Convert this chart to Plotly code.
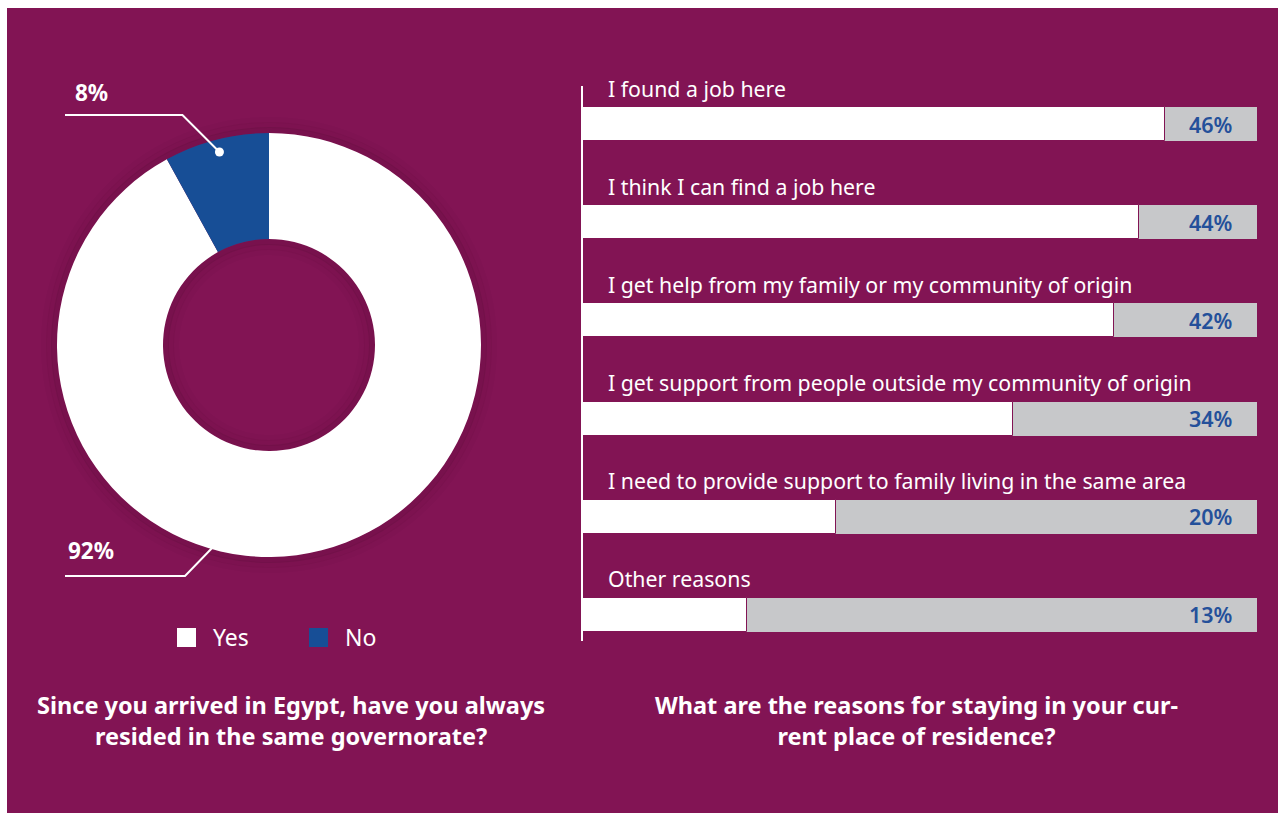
import math
import plotly.graph_objects as go

# ---- data ----
residence_labels = ["Yes", "No"]
residence_values = [92, 8]

reasons = [
    "I found a job here",
    "I think I can find a job here",
    "I get help from my family or my community of origin",
    "I get support from people outside my community of origin",
    "I need to provide support to family living in the same area",
    "Other reasons",
]
reason_values = [46, 44, 42, 34, 20, 13]

left_title = "Since you arrived in Egypt, have you always<br>resided in the same governorate?"
right_title = "What are the reasons for staying in your cur-<br>rent place of residence?"

# ---- style ----
W, H = 1278, 813
PURPLE = "#821454"
BLUE = "#174E96"
GREY = "#C7C8CA"
VALUE_BLUE = "#24509A"
FONT = "Noto Sans"
TRACK = 53.3  # full length of the grey track behind each bar


def px(x):
    return x / W


def py(y):
    return 1 - y / H


# donut geometry in pixels
CX, CY, R = 269, 345, 212

fig = go.Figure()

fig.add_trace(go.Pie(
    labels=residence_labels,
    values=residence_values,
    hole=0.5,
    sort=False,
    direction="clockwise",
    rotation=0,
    marker=dict(colors=["#FFFFFF", BLUE], line=dict(width=0)),
    textinfo="none",
    hoverinfo="label+percent",
    showlegend=False,
    domain=dict(x=[px(CX - R), px(CX + R)], y=[py(CY + R), py(CY - R)]),
))

# grey track behind each bar
fig.add_trace(go.Bar(
    y=reasons,
    x=[TRACK] * len(reasons),
    orientation="h",
    marker=dict(color=GREY, line=dict(width=0)),
    width=0.346,
    hoverinfo="skip",
    showlegend=False,
    xaxis="x", yaxis="y",
))
# value bars
fig.add_trace(go.Bar(
    y=reasons,
    x=reason_values,
    orientation="h",
    marker=dict(color="#FFFFFF", line=dict(color=PURPLE, width=1)),
    width=0.346,
    showlegend=False,
    hovertemplate="%{y}: %{x}%<extra></extra>",
    xaxis="x", yaxis="y",
))

shapes = []
annotations = []

# purple panel
shapes.append(dict(type="rect", xref="paper", yref="paper",
                   x0=px(7), x1=1, y0=0, y1=py(8),
                   fillcolor=PURPLE, line=dict(width=0), layer="below"))

# soft shadow rings around the donut and inside its hole
for rr, w, a in [(R + 3, 6, 0.10), (R + 8, 6, 0.05), (R + 13, 6, 0.025),
                 (103, 6, 0.10), (98, 6, 0.05), (93, 6, 0.025)]:
    shapes.append(dict(type="circle", xref="paper", yref="paper",
                       x0=px(CX - rr), x1=px(CX + rr), y0=py(CY + rr), y1=py(CY - rr),
                       fillcolor="rgba(0,0,0,0)",
                       line=dict(color=f"rgba(40,0,20,{a})", width=w), layer="below"))

# leader for the "No" slice: dot at the slice mid-angle
total = sum(residence_values)
no_share = residence_values[1] / total
mid_angle = math.radians(360 * no_share / 2)  # counter-clockwise from 12 o'clock
dot_r = 0.94 * R
dx = CX - dot_r * math.sin(mid_angle)
dy = CY - dot_r * math.cos(mid_angle)
elbow_x, elbow_y = dx - (dy - 115), 115
shapes.append(dict(type="path", xref="paper", yref="paper",
                   path=f"M {px(65)},{py(115)} L {px(elbow_x)},{py(elbow_y)} L {px(dx)},{py(dy)}",
                   line=dict(color="white", width=2)))
shapes.append(dict(type="circle", xref="paper", yref="paper",
                   x0=px(dx - 4.5), x1=px(dx + 4.5), y0=py(dy + 4.5), y1=py(dy - 4.5),
                   fillcolor="white", line=dict(width=0)))
annotations.append(dict(xref="paper", yref="paper", x=px(91), y=py(92),
                        xanchor="center", yanchor="middle",
                        text=f"<b>{residence_values[1]}%</b>", showarrow=False,
                        font=dict(family=FONT, size=22.5, color="white")))

# leader for the "Yes" slice
shapes.append(dict(type="path", xref="paper", yref="paper",
                   path=f"M {px(65)},{py(576)} L {px(185)},{py(576)} L {px(214)},{py(546)}",
                   line=dict(color="white", width=2)))
annotations.append(dict(xref="paper", yref="paper", x=px(91), y=py(550),
                        xanchor="center", yanchor="middle",
                        text=f"<b>{residence_values[0]}%</b>", showarrow=False,
                        font=dict(family=FONT, size=22.5, color="white")))

# legend for the donut
legend_x = [177, 309]
for lx, lab, col in zip(legend_x, residence_labels, ["#FFFFFF", BLUE]):
    shapes.append(dict(type="rect", xref="paper", yref="paper",
                       x0=px(lx), x1=px(lx + 19), y0=py(647), y1=py(628),
                       fillcolor=col, line=dict(width=0)))
    annotations.append(dict(xref="paper", yref="paper", x=px(lx + 34), y=py(637),
                            xanchor="left", yanchor="middle", text=lab, showarrow=False,
                            font=dict(family=FONT, size=23, color="white")))

# category labels above bars and value labels inside the tracks
for name, val in zip(reasons, reason_values):
    annotations.append(dict(xref="paper", yref="y", x=px(606), y=name,
                            xanchor="left", yanchor="middle", yshift=36,
                            text=name, showarrow=False,
                            font=dict(family=FONT, size=21.3, color="white")))
    annotations.append(dict(xref="paper", yref="y", x=px(1235), y=name,
                            xanchor="right", yanchor="middle",
                            text=f"{val}%", showarrow=False,
                            font=dict(family=FONT, size=21.5, color=VALUE_BLUE, weight=600)))

# titles under each chart
annotations.append(dict(xref="paper", yref="paper", x=px(291), y=py(720),
                        xanchor="center", yanchor="middle",
                        text=f"<b>{left_title}</b>", showarrow=False,
                        font=dict(family=FONT, size=23.5, color="white")))
annotations.append(dict(xref="paper", yref="paper", x=px(916), y=py(720),
                        xanchor="center", yanchor="middle",
                        text=f"<b>{right_title}</b>", showarrow=False,
                        font=dict(family=FONT, size=23.5, color="white")))

fig.update_layout(
    width=W, height=H,
    margin=dict(l=0, r=0, t=0, b=0),
    paper_bgcolor="white",
    plot_bgcolor="rgba(0,0,0,0)",
    barmode="overlay",
    bargap=0,
    shapes=shapes,
    annotations=annotations,
    xaxis=dict(domain=[px(583), px(1257)], range=[0, TRACK],
               showgrid=False, zeroline=False, showticklabels=False, showline=False, fixedrange=True),
    yaxis=dict(domain=[py(641), py(86)], range=[len(reasons) - 1 + 0.265, -0.387],
               type="category", categoryorder="array", categoryarray=reasons,
               showgrid=False, zeroline=False, showticklabels=False,
               showline=True, linecolor="white", linewidth=2, fixedrange=True),
    font=dict(family=FONT),
)

fig.write_html("out.html")
